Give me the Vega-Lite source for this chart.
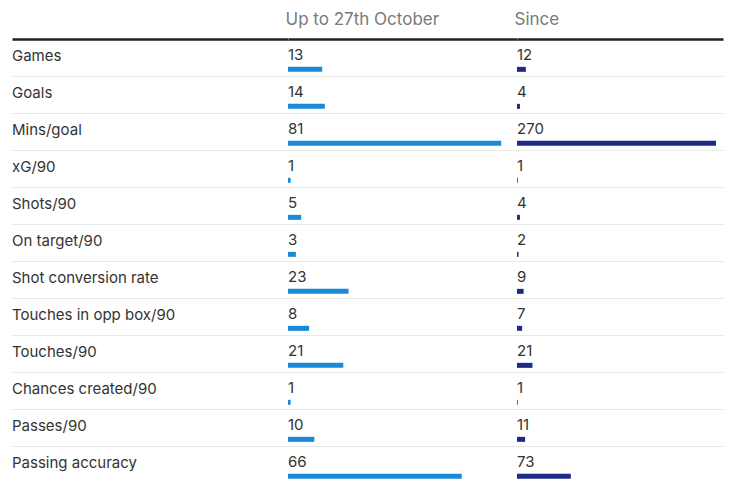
{
  "$schema": "https://vega.github.io/schema/vega-lite/v6.json",
  "padding": {"left": 12, "top": 11, "right": 10, "bottom": 8},
  "background": "white",
  "config": {
    "view": {"stroke": null},
    "font": "Inter",
    "title": {"anchor": "start", "fontSize": 17, "fontWeight": "normal", "color": "#7a7a7a", "offset": 10, "font": "Inter"}
  },
  "data": {"values": [
    {"metric": "Games", "before": 13, "since": 12},
    {"metric": "Goals", "before": 14, "since": 4},
    {"metric": "Mins/goal", "before": 81, "since": 270},
    {"metric": "xG/90", "before": 1, "since": 1},
    {"metric": "Shots/90", "before": 5, "since": 4},
    {"metric": "On target/90", "before": 3, "since": 2},
    {"metric": "Shot conversion rate", "before": 23, "since": 9},
    {"metric": "Touches in opp box/90", "before": 8, "since": 7},
    {"metric": "Touches/90", "before": 21, "since": 21},
    {"metric": "Chances created/90", "before": 1, "since": 1},
    {"metric": "Passes/90", "before": 10, "since": 11},
    {"metric": "Passing accuracy", "before": 66, "since": 73}
  ]},
  "spacing": 0,
  "bounds": "flush",
  "hconcat": [
    {
      "width": 276,
      "height": 444,
      "title": {"text": " "},
      "encoding": {
        "y": {"field": "metric", "type": "nominal", "sort": null,
              "scale": {"type": "band", "paddingInner": 0, "paddingOuter": 0},
              "axis": {"labels": false, "ticks": false, "domain": false, "title": null, "grid": true, "gridColor": "#e8e8e8", "gridWidth": 1, "bandPosition": 0}}
      },
      "layer": [
        {
          "mark": {"type": "text", "align": "left", "baseline": "middle", "fontSize": 15, "color": "#333333"},
          "encoding": {
            "x": {"datum": 0, "type": "quantitative", "scale": {"domain": [0, 1], "nice": false},
                  "axis": {"orient": "top", "labels": false, "ticks": false, "grid": false, "title": null, "domain": true, "domainColor": "#222222", "domainWidth": 2.5}},
            "y": {"field": "metric", "type": "nominal", "sort": null, "bandPosition": 0.47},
            "text": {"field": "metric"}
          }
        }
      ]
    },
    {
      "width": 229,
      "height": 444,
      "title": {"text": "Up to 27th October"},
      "encoding": {
        "y": {"field": "metric", "type": "nominal", "sort": null,
              "scale": {"type": "band", "paddingInner": 0, "paddingOuter": 0},
              "axis": {"labels": false, "ticks": false, "domain": false, "title": null, "grid": true, "gridColor": "#e8e8e8", "gridWidth": 1, "bandPosition": 0}}
      },
      "layer": [
        {
          "mark": {"type": "rule", "strokeWidth": 5, "strokeCap": "butt", "color": "#1a8ad8"},
          "encoding": {
            "x": {"field": "before", "type": "quantitative", "scale": {"domain": [0, 87], "nice": false},
                  "axis": {"orient": "top", "labels": false, "ticks": false, "grid": false, "title": null, "domain": true, "domainColor": "#222222", "domainWidth": 2.5}},
            "x2": {"datum": 0},
            "y": {"field": "metric", "type": "nominal", "sort": null, "bandPosition": 0.82}
          }
        },
        {
          "mark": {"type": "text", "align": "left", "baseline": "middle", "fontSize": 15, "color": "#333333"},
          "encoding": {
            "x": {"datum": 0, "type": "quantitative"},
            "y": {"field": "metric", "type": "nominal", "sort": null, "bandPosition": 0.42},
            "text": {"field": "before", "type": "quantitative"}
          }
        }
      ]
    },
    {
      "width": 206,
      "height": 444,
      "title": {"text": "Since"},
      "encoding": {
        "y": {"field": "metric", "type": "nominal", "sort": null,
              "scale": {"type": "band", "paddingInner": 0, "paddingOuter": 0},
              "axis": {"labels": false, "ticks": false, "domain": false, "title": null, "grid": true, "gridColor": "#e8e8e8", "gridWidth": 1, "bandPosition": 0}}
      },
      "layer": [
        {
          "mark": {"type": "rule", "strokeWidth": 5, "strokeCap": "butt", "color": "#1f2a87"},
          "encoding": {
            "x": {"field": "since", "type": "quantitative", "scale": {"domain": [0, 279.5], "nice": false},
                  "axis": {"orient": "top", "labels": false, "ticks": false, "grid": false, "title": null, "domain": true, "domainColor": "#222222", "domainWidth": 2.5}},
            "x2": {"datum": 0},
            "y": {"field": "metric", "type": "nominal", "sort": null, "bandPosition": 0.82}
          }
        },
        {
          "mark": {"type": "text", "align": "left", "baseline": "middle", "fontSize": 15, "color": "#333333"},
          "encoding": {
            "x": {"datum": 0, "type": "quantitative"},
            "y": {"field": "metric", "type": "nominal", "sort": null, "bandPosition": 0.42},
            "text": {"field": "since", "type": "quantitative"}
          }
        }
      ]
    }
  ]
}
